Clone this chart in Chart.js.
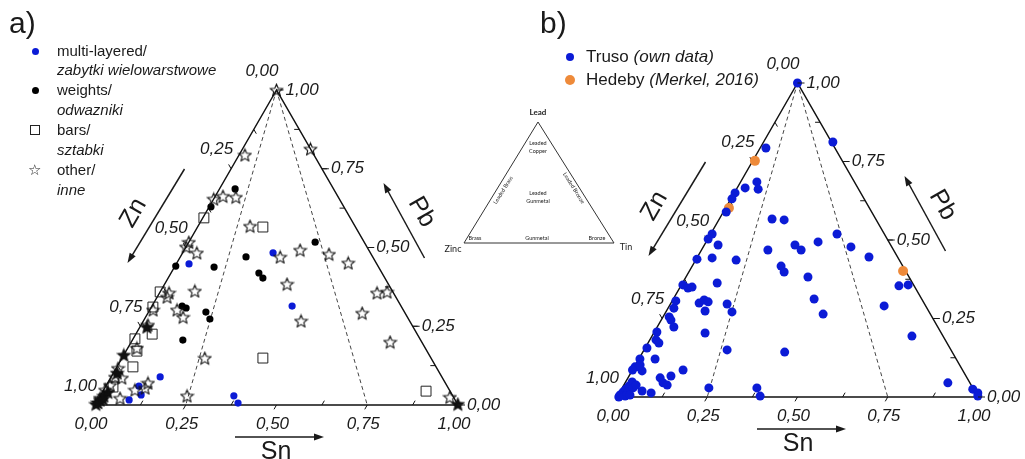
<!DOCTYPE html>
<html>
<head>
<meta charset="utf-8">
<script src="https://cdn.jsdelivr.net/npm/chart.js@4.4.1/dist/chart.umd.min.js"></script>
<style>
body{margin:0;background:#fff;width:1025px;height:459px;overflow:hidden;position:relative;font-family:Arial,"Liberation Sans",sans-serif;color:#1a1a1a;}
canvas{position:absolute;left:0;top:0;}
.t{position:absolute;white-space:nowrap;line-height:20px;}
.i{font-style:italic;}
.dot{position:absolute;border-radius:50%;}
</style>
</head>
<body>
<canvas id="chartA" width="1025" height="459"></canvas>
<canvas id="chartB" width="1025" height="459"></canvas>

<div class="t" style="left:9px;top:6px;font-size:30px;line-height:34px">a)</div>
<div class="t" style="left:540px;top:6px;font-size:30px;line-height:34px">b)</div>

<!-- legend a -->
<div class="dot" style="left:32px;top:48px;width:7px;height:7px;background:#0b1bd6"></div>
<div class="t" style="left:57px;top:41px;font-size:15px">multi-layered/</div>
<div class="t i" style="left:57px;top:60px;font-size:15px">zabytki wielowarstwowe</div>
<div class="dot" style="left:32px;top:87px;width:7px;height:7px;background:#000"></div>
<div class="t" style="left:57px;top:80px;font-size:15px">weights/</div>
<div class="t i" style="left:57px;top:100px;font-size:15px">odwazniki</div>
<div style="position:absolute;left:30px;top:125px;width:8px;height:8px;border:1px solid #222"></div>
<div class="t" style="left:57px;top:120px;font-size:15px">bars/</div>
<div class="t i" style="left:57px;top:140px;font-size:15px">sztabki</div>
<div class="t" style="left:28px;top:160px;font-size:15px">☆</div>
<div class="t" style="left:57px;top:160px;font-size:15px">other/</div>
<div class="t i" style="left:57px;top:180px;font-size:15px">inne</div>

<!-- legend b -->
<div class="dot" style="left:566px;top:53px;width:8px;height:8px;background:#0b1bd6"></div>
<div class="t" style="left:586px;top:47px;font-size:17px">Truso <span class="i">(own data)</span></div>
<div class="dot" style="left:565px;top:75px;width:10px;height:10px;background:#ee8a3a"></div>
<div class="t" style="left:586px;top:70px;font-size:17px">Hedeby <span class="i">(Merkel, 2016)</span></div>

<!-- small reference triangle -->
<svg style="position:absolute;left:440px;top:90px" width="200" height="170" viewBox="440 90 200 170" font-family="Lato, 'Open Sans', sans-serif" fill="#222">
<polygon points="538,122 464,243 614,243" fill="none" stroke="#333" stroke-width="1"/>
<text x="538" y="115" font-size="8" font-weight="bold" text-anchor="middle">Lead</text>
<text x="453" y="252" font-size="9" text-anchor="middle">Zinc</text>
<text x="626" y="250" font-size="9" text-anchor="middle">Tin</text>
<text x="538" y="145" font-size="5.5" text-anchor="middle">Leaded</text>
<text x="538" y="153" font-size="5.5" text-anchor="middle">Copper</text>
<text x="538" y="195" font-size="5.5" text-anchor="middle">Leaded</text>
<text x="538" y="203" font-size="5.5" text-anchor="middle">Gunmetal</text>
<text x="503" y="192" font-size="5.5" text-anchor="middle" transform="rotate(-58 503 190)">Leaded Brass</text>
<text x="574" y="190" font-size="5.5" text-anchor="middle" transform="rotate(58 574 188)">Leaded Bronze</text>
<text x="475" y="240" font-size="5.5" text-anchor="middle">Brass</text>
<text x="537" y="240" font-size="5.5" text-anchor="middle">Gunmetal</text>
<text x="597" y="240" font-size="5.5" text-anchor="middle">Bronze</text>
</svg>

<script>
// ternary axis labels
const tickValues = [0, 0.25, 0.5, 0.75, 1];
const tickLabels = ['0,00', '0,25', '0,50', '0,75', '1,00'];
const axisNames = ['Zn', 'Pb', 'Sn'];

// every point is [Sn, Pb]  (Zn = 1 - Sn - Pb)
// chart a)
const multiLayered = [[0.249,0.483],[0.035,0.448],[0.386,0.314],[0.135,0.089],[0.091,0.060],[0.111,0.032],[0.086,0.016],[0.368,0.029],[0.391,0.006]];
const weights = [[0.043,0.686],[0.005,0.629],[0.002,0.441],[0.109,0.438],[0.181,0.470],[0.242,0.419],[0.261,0.403],[0.348,0.517],[0.083,0.314],[0.097,0.308],[0.158,0.295],[0.180,0.273],[0.139,0.206]];
const bars = [[0.003,0.594],[0.180,0.565],[0.000,0.359],[0.004,0.311],[0.045,0.225],[0.005,0.210],[0.030,0.171],[0.044,0.121],[0.021,0.057],[0.890,0.044],[0.388,0.149]];
const other = [[0,1],[0.016,0.794],[0,0.654],[0.021,0.663],[0.058,0.660],[0.143,0.568],[0,0.517],[0,0.502],[0.039,0.483],[0.275,0.470],[0.319,0.492],[0.405,0.479],[0.472,0.451],[0.187,0.813],[0.337,0.384],[0.026,0.356],[0.027,0.343],[0.094,0.362],[0.434,0.267],[0.009,0.302],[0.075,0.302],[0.103,0.279],[0.019,0.254],[0.025,0.181],[0.228,0.149],[0.005,0.117],[0.011,0.089],[0.031,0.086],[0.111,0.070],[0.111,0.054],[0.086,0.048],[0.058,0.022],[0.239,0.029],[0.599,0.356],[0.625,0.359],[0.590,0.292],[0.713,0.200],[0.965,0.025],[0.004,0.048],[0.010,0.063],[0.003,0.022]];
// stars piled on top of each other (look solid black)
const otherPiled = [[0.001,0.003],[0.006,0.016],[0.010,0.029],[0.015,0.041],[0.010,0.102],[0.000,0.159],[0.019,0.248],[0.998,0.003],[0.004,0.008],[0.012,0.020]];

// chart b)
const truso = [[0,1],[0.016,0.793],[0.045,0.685],[0.060,0.662],[0.022,0.666],[0.002,0.650],[0.003,0.631],[0.008,0.589],[0.146,0.567],[0.181,0.564],[0.004,0.519],[0.001,0.503],[0.038,0.484],[0.184,0.468],[0.251,0.484],[0.276,0.468],[0.310,0.494],[0.350,0.519],[0.409,0.478],[0.475,0.446],[0.192,0.812],
  [0.002,0.439],[0.042,0.443],[0.112,0.436],[0.246,0.417],[0.264,0.398],[0.338,0.382],[0.390,0.312],[0.439,0.264],[0.096,0.363],[0.004,0.357],[0.023,0.347],[0.033,0.350],[0.010,0.306],[0.016,0.283],[0.078,0.299],[0.087,0.309],[0.101,0.303],[0.107,0.274],[0.157,0.296],[0.183,0.271],
  [0.017,0.255],[0.027,0.245],[0.046,0.223],[0.007,0.207],[0.142,0.204],[0.017,0.182],[0.030,0.172],[0.005,0.156],[0.230,0.150],[0.393,0.143],[0.003,0.121],[0.045,0.121],[0.002,0.096],[0.013,0.096],[0.028,0.083],[0.140,0.086],[0.089,0.061],[0.105,0.045],[0.120,0.038],[0.116,0.067],
  [0.060,0.019],[0.088,0.013],[0.240,0.029],[0.373,0.029],[0.395,0.003],[0.604,0.354],[0.628,0.357],[0.595,0.290],[0.720,0.194],[0.894,0.045],[0.973,0.025],[0.993,0.013],[0.998,0.003],
  [0.005,0.006],[0.009,0.016],[0.012,0.025],[0.016,0.035],[0.018,0.048],[0.022,0.016],[0.030,0.029],[0.034,0.038],[0.021,0.003],[0.033,0.006],[0.005,0.000],[0.000,0.086],[0.013,0.102]];
const hedeby = [[0.006,0.752],[0.009,0.602],[0.592,0.401]];

const H = Math.sqrt(3) / 2;
function toXY(list) {
    return list.map(function(p){ return {x: p[0] + p[1] / 2, y: p[1] * H}; });
}

function starImage(size, fill) {
    const c = document.createElement('canvas');
    c.width = size; c.height = size;
    const g = c.getContext('2d');
    const R = size / 2 - 1, r = R * 0.45, cx = size / 2, cy = size / 2 + 0.7;
    g.beginPath();
    for (let k = 0; k < 10; k++) {
        const rad = k % 2 ? r : R;
        const a = -Math.PI / 2 + k * Math.PI / 5;
        g.lineTo(cx + rad * Math.cos(a), cy + rad * Math.sin(a));
    }
    g.closePath();
    if (fill) { g.fillStyle = fill; g.fill(); }
    g.strokeStyle = '#111';
    g.lineWidth = 1.1;
    g.stroke();
    return c;
}

function arrow(ctx, x1, y1, x2, y2) {
    const a = Math.atan2(y2 - y1, x2 - x1);
    ctx.beginPath();
    ctx.moveTo(x1, y1);
    ctx.lineTo(x2 - 6 * Math.cos(a), y2 - 6 * Math.sin(a));
    ctx.stroke();
    ctx.beginPath();
    ctx.moveTo(x2, y2);
    ctx.lineTo(x2 - 10 * Math.cos(a) + 3.5 * Math.sin(a), y2 - 10 * Math.sin(a) - 3.5 * Math.cos(a));
    ctx.lineTo(x2 - 10 * Math.cos(a) - 3.5 * Math.sin(a), y2 - 10 * Math.sin(a) + 3.5 * Math.cos(a));
    ctx.closePath();
    ctx.fill();
}

const ternaryFrame = {
    id: 'ternaryFrame',
    beforeDatasetsDraw(chart) {
        const ctx = chart.ctx;
        const P = function(sn, pb){ return [chart.scales.x.getPixelForValue(sn + pb / 2), chart.scales.y.getPixelForValue(pb * H)]; };
        ctx.save();
        // dashed guide lines from the Pb corner
        ctx.strokeStyle = '#444';
        ctx.lineWidth = 1;
        ctx.setLineDash([4, 3]);
        for (let s of [0.25, 0.75]) {
            let top = P(0, 1), bot = P(s, 0);
            ctx.beginPath(); ctx.moveTo(top[0], top[1]); ctx.lineTo(bot[0], bot[1]); ctx.stroke();
        }
        ctx.setLineDash([]);
        // triangle
        ctx.strokeStyle = '#111';
        ctx.lineWidth = 1.5;
        let A = P(0, 1), B = P(0, 0), C = P(1, 0);
        ctx.beginPath(); ctx.moveTo(A[0], A[1]); ctx.lineTo(B[0], B[1]); ctx.lineTo(C[0], C[1]); ctx.closePath(); ctx.stroke();
        // ticks
        ctx.lineWidth = 1;
        for (let k = 1; k < 8; k++) {
            const t = k / 8;
            const major = k % 2 == 0;
            const len = 5;
            // base (Sn)
            let p = P(t, 0), q = P(t, 0.1);
            let segs = [[p, q]];
            // left edge (Zn)
            let pl = P(0, 1 - t), ql = P(0.1, 0.9 - t);
            segs.push([pl, ql]);
            // right edge (Pb)
            let pr = P(1 - t, t), qr = P(0.9 - t, t);
            segs.push([pr, qr]);
            for (let s of segs) {
                let dx = s[1][0] - s[0][0], dy = s[1][1] - s[0][1], d = Math.hypot(dx, dy);
                dx /= d; dy /= d;
                let sgn = major ? -1 : 1;
                ctx.beginPath();
                ctx.moveTo(s[0][0], s[0][1]);
                ctx.lineTo(s[0][0] + sgn * dx * len, s[0][1] + sgn * dy * len);
                ctx.stroke();
            }
        }
        ctx.restore();
    },
    afterDraw(chart) {
        const ctx = chart.ctx;
        const P = function(sn, pb){ return [chart.scales.x.getPixelForValue(sn + pb / 2), chart.scales.y.getPixelForValue(pb * H)]; };
        ctx.save();
        ctx.fillStyle = '#1a1a1a';
        ctx.strokeStyle = '#1a1a1a';
        ctx.font = 'italic 17px Arial, "Liberation Sans", sans-serif';
        ctx.textBaseline = 'middle';
        tickValues.forEach(function(t, i){
            // Sn along the base
            let p = P(t, 0);
            ctx.textAlign = 'center';
            ctx.fillText(tickLabels[i], p[0] - 4, p[1] + 19);
            // Zn along the left edge
            p = P(0, 1 - t);
            ctx.textAlign = 'right';
            ctx.fillText(tickLabels[i], p[0] + 2, p[1] - 19);
            // Pb along the right edge
            p = P(1 - t, t);
            ctx.beginPath(); ctx.moveTo(p[0], p[1]); ctx.lineTo(p[0] + 7, p[1]); ctx.stroke();
            ctx.textAlign = 'left';
            ctx.fillText(tickLabels[i], p[0] + 9, p[1]);
        });
        // axis arrows and names
        const ap = P(0, 1), bl = P(0, 0);
        ctx.lineWidth = 1.5;
        arrow(ctx, ap[0] - 92, ap[1] + 79, ap[0] - 149, ap[1] + 173);
        arrow(ctx, ap[0] + 148, ap[1] + 168, ap[0] + 107, ap[1] + 93);
        arrow(ctx, bl[0] + 140, bl[1] + 32, bl[0] + 229, bl[1] + 32);
        ctx.font = '25px Arial, "Liberation Sans", sans-serif';
        ctx.textAlign = 'center';
        ctx.save();
        ctx.translate(ap[0] - 143, ap[1] + 123);
        ctx.rotate(-Math.PI / 3);
        ctx.fillText(axisNames[0], 0, 0);
        ctx.restore();
        ctx.save();
        ctx.translate(ap[0] + 145, ap[1] + 122);
        ctx.rotate(Math.PI / 3);
        ctx.fillText(axisNames[1], 0, 0);
        ctx.restore();
        ctx.fillText(axisNames[2], bl[0] + 181, bl[1] + 47);
        ctx.restore();
    }
};

function makeTernary(id, datasets, pad) {
    new Chart(document.getElementById(id), {
        type: 'scatter',
        data: { datasets: datasets },
        options: {
            responsive: false,
            animation: false,
            devicePixelRatio: 1,
            layout: { padding: pad },
            scales: {
                x: { display: false, min: 0, max: 1 },
                y: { display: false, min: 0, max: H }
            },
            plugins: { legend: { display: false }, tooltip: { enabled: false } },
            elements: { point: { borderWidth: 0 } }
        },
        plugins: [ternaryFrame]
    });
}

const hollowStar = starImage(15, null);
const solidStar = starImage(15, '#111');

makeTernary('chartA', [
    { label: 'other/inne', data: toXY(other), pointStyle: hollowStar, clip: false },
    { label: 'other (piled)', data: toXY(otherPiled), pointStyle: solidStar, clip: false },
    { label: 'bars/sztabki', data: toXY(bars), pointStyle: 'rect', pointRadius: 7, borderWidth: 1, borderColor: '#222', backgroundColor: 'rgba(0,0,0,0)', clip: false },
    { label: 'weights/odwazniki', data: toXY(weights), pointRadius: 3.6, backgroundColor: '#000', clip: false },
    { label: 'multi-layered/zabytki wielowarstwowe', data: toXY(multiLayered), pointRadius: 3.6, backgroundColor: '#0b1bd6', clip: false }
], { left: 95, right: 1025 - 458, top: 90, bottom: 459 - 405 });

makeTernary('chartB', [
    { label: 'Truso (own data)', data: toXY(truso), pointRadius: 4.5, backgroundColor: '#0b1bd6', clip: false },
    { label: 'Hedeby (Merkel, 2016)', data: toXY(hedeby), pointRadius: 5, backgroundColor: '#ee8a3a', clip: false }
], { left: 617, right: 1025 - 978, top: 83, bottom: 459 - 397 });
</script>
</body>
</html>
